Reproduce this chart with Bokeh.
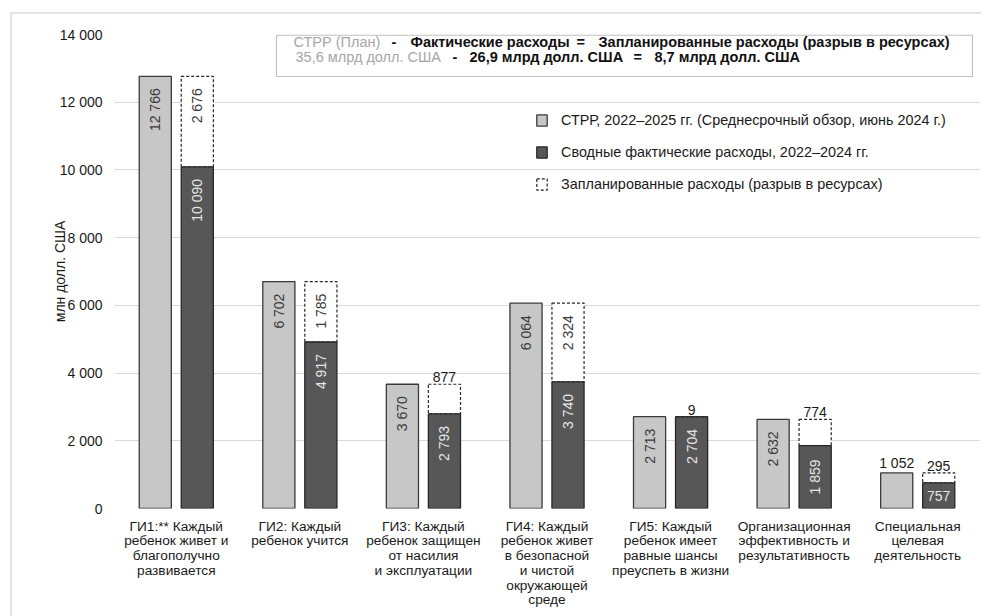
import math
from bokeh.plotting import figure
from bokeh.models import (ColumnDataSource, FactorRange, Range1d, FixedTicker, Legend,
                          LegendItem, Label, BoxAnnotation)
from bokeh.transform import dodge
from bokeh.core.properties import value
from bokeh.embed import file_html
from bokeh.resources import INLINE

# ---------------- data ----------------
categories = [
    "ГИ1:** Каждый\nребенок живет и\nблагополучно\nразвивается",
    "ГИ2: Каждый\nребенок учится",
    "ГИ3: Каждый\nребенок защищен\nот насилия\nи эксплуатации",
    "ГИ4: Каждый\nребенок живет\nв безопасной\nи чистой\nокружающей\nсреде",
    "ГИ5: Каждый\nребенок имеет\nравные шансы\nпреуспеть в жизни",
    "Организационная\nэффективность и\nрезультативность",
    "Специальная\nцелевая\nдеятельность",
]
plan = [12766, 6702, 3670, 6064, 2713, 2632, 1052]        # СТРР 2022–2025
actual = [10090, 4917, 2793, 3740, 2704, 1859, 757]       # фактические расходы 2022–2024
gap = [2676, 1785, 877, 2324, 9, 774, 295]                # разрыв в ресурсах
y_ticks = [0, 2000, 4000, 6000, 8000, 10000, 12000, 14000]
y_tick_labels = ["0", "2 000", "4 000", "6 000", "8 000", "10 000", "12 000", "14 000"]
series_names = [
    "СТРР, 2022–2025 гг. (Среднесрочный обзор, июнь 2024 г.)",
    "Сводные фактические расходы, 2022–2024 гг.",
    "Запланированные расходы (разрыв в ресурсах)",
]
summary_line1 = ["СТРР (План)", "-", "Фактические расходы", "=",
                 "Запланированные расходы (разрыв в ресурсах)"]
summary_line2 = ["35,6 млрд долл. США", "-", "26,9 млрд долл. США", "=",
                 "8,7 млрд долл. США"]
y_axis_title = "млн долл. США"

# label placement styles (per category)
light_mode = ["in", "in", "in", "in", "in", "in", "above"]
dark_mode = ["in", "in", "in", "in", "in", "mid", "mid_h"]
gap_mode = ["in", "in", "above", "in", "above", "above", "above"]

# ---------------- figure ----------------
FONT = "Liberation Sans"
W, H = 981, 616
ML, MR, MT, MB = 114, 2, 34, 108
Y_MAX = 14000
frame_h = H - MT - MB
frame_w = W - ML - MR
upp = Y_MAX / frame_h                 # data units per pixel (y)
cat_px = frame_w / len(categories)    # pixels per category


def px2x(px):
    return (px - ML) / cat_px


def py2y(py):
    return (H - MB - py) * upp


p = figure(x_range=FactorRange(*categories), y_range=Range1d(0, Y_MAX),
           width=W, height=H, output_backend="svg", toolbar_location=None,
           min_border_left=ML, min_border_right=MR, min_border_top=MT,
           min_border_bottom=MB)
p.outline_line_color = None
p.background_fill_color = "white"
p.border_fill_color = None
# light outer panel frame (drawn behind the transparent border area)
p.styles = {
    "background-color": "white",
    "background-image": "linear-gradient(#e3e3e3, #e3e3e3), linear-gradient(#e3e3e3, #e3e3e3)",
    "background-size": "2px 100%, 100% 2px",
    "background-position": "10px 12px, 10px 12px",
    "background-repeat": "no-repeat",
}

p.xgrid.grid_line_color = None
p.ygrid.grid_line_color = "#d9d9d9"
p.ygrid.grid_line_width = 1.2

p.yaxis.ticker = FixedTicker(ticks=y_ticks)
p.yaxis.major_label_overrides = {t: l for t, l in zip(y_ticks, y_tick_labels)}
for ax in (p.xaxis[0], p.yaxis[0]):
    ax.axis_line_color = None
    ax.major_tick_line_color = None
    ax.minor_tick_line_color = None
    ax.major_tick_out = 0
    ax.major_tick_in = 0
    ax.minor_tick_out = 0
    ax.major_label_text_font = FONT
    ax.major_label_text_color = "#1a1a1a"
p.yaxis.major_label_text_font_size = "14px"
p.yaxis.major_label_standoff = 12
p.yaxis.axis_label = y_axis_title
p.yaxis.axis_label_text_font = FONT
p.yaxis.axis_label_text_font_size = "14px"
p.yaxis.axis_label_text_font_style = "normal"
p.yaxis.axis_label_text_color = "#1a1a1a"
p.yaxis.axis_label_standoff = -11

p.xaxis.major_label_text_font_size = "13.7px"
p.xaxis.major_label_text_line_height = 0.985
p.xaxis.major_label_standoff = 10

src = ColumnDataSource(dict(cat=categories, plan=plan, actual=actual, gap=gap,
                            gap_top=[a + g for a, g in zip(actual, gap)]))
OFF = 0.17
BW = 0.26
light = p.vbar(x=dodge("cat", -OFF, range=p.x_range), top="plan", width=BW, source=src,
               fill_color="#c7c7c7", line_color="#3a3a3a", line_width=1.3)
gap_r = p.vbar(x=dodge("cat", OFF, range=p.x_range), bottom="actual", top="gap_top", width=BW,
               source=src, fill_color="white", line_color="#262626", line_dash="3 2",
               line_width=1.2)
dark = p.vbar(x=dodge("cat", OFF, range=p.x_range), top="actual", width=BW, source=src,
              fill_color="#575757", line_color="#262626", line_width=1.3)


def fmt(v):
    return f"{v:,}".replace(",", " ")


groups = {}


def add(side, style, cat, y, txt, color):
    g = groups.setdefault((side, style, color), dict(cat=[], y=[], txt=[]))
    g["cat"].append(cat)
    g["y"].append(y)
    g["txt"].append(txt)


LIGHT_TXT = "#3a3a3a"
DARK_TXT = "#e6e6e6"
ABOVE_TXT = "#1a1a1a"
for i, c in enumerate(categories):
    if light_mode[i] == "in":
        add(-OFF, "rot_end", c, plan[i] - 12 * upp, fmt(plan[i]), LIGHT_TXT)
    else:
        add(-OFF, "above", c, plan[i] + 2 * upp, fmt(plan[i]), ABOVE_TXT)
    if dark_mode[i] == "in":
        add(OFF, "rot_end", c, actual[i] - 12 * upp, fmt(actual[i]), DARK_TXT)
    elif dark_mode[i] == "mid":
        add(OFF, "rot_mid", c, actual[i] / 2, fmt(actual[i]), DARK_TXT)
    else:
        add(OFF, "mid_h", c, actual[i] / 2, fmt(actual[i]), DARK_TXT)
    top = actual[i] + gap[i]
    if gap_mode[i] == "in":
        add(OFF, "rot_end", c, top - 12 * upp, fmt(gap[i]), LIGHT_TXT)
    else:
        add(OFF, "above", c, top + 2 * upp, fmt(gap[i]), ABOVE_TXT)

style_kw = {
    "rot_end": dict(angle=math.pi / 2, text_align="right", text_baseline="middle"),
    "rot_mid": dict(angle=math.pi / 2, text_align="center", text_baseline="middle"),
    "mid_h": dict(angle=0, text_align="center", text_baseline="middle"),
    "above": dict(angle=0, text_align="center", text_baseline="bottom"),
}
for (side, style, color), d in groups.items():
    s = ColumnDataSource(d)
    p.text(x=dodge("cat", side, range=p.x_range), y="y", text="txt", source=s,
           text_font=value(FONT), text_font_size="14px", text_color=color,
           **style_kw[style])

# series legend
legend = Legend(items=[LegendItem(label=series_names[0], renderers=[light]),
                       LegendItem(label=series_names[1], renderers=[dark]),
                       LegendItem(label=series_names[2], renderers=[gap_r])],
                location=(535 - ML, H - MB - 192), padding=0, margin=0, spacing=15,
                glyph_width=13, glyph_height=14, label_height=17, label_standoff=13,
                label_text_font=FONT, label_text_font_size="14.4px",
                label_text_color="#1a1a1a", background_fill_alpha=0, border_line_alpha=0)
p.add_layout(legend)

# summary box
p.add_layout(BoxAnnotation(left=px2x(276), right=px2x(972), top=Y_MAX - 0.7 * upp,
                           bottom=py2y(76), fill_color="white", fill_alpha=1,
                           line_color="#333333", line_width=1.2))
GRAY = "#a6a6a6"
line1_x = [293, 391, 410, 576, 598]
line2_x = [295, 452, 469, 633, 654]
line_colors = [GRAY, "#111111", "#111111", "#111111", "#111111"]
line_styles = ["normal", "bold", "bold", "bold", "bold"]
for txts, xs, ypx in ((summary_line1, line1_x, 41), (summary_line2, line2_x, 56)):
    for t, xp, col, st in zip(txts, xs, line_colors, line_styles):
        p.add_layout(Label(x=px2x(xp), y=py2y(ypx), text=t, text_font=FONT,
                           text_font_size="14.5px", text_font_style=st, text_color=col,
                           text_align="left", text_baseline="middle"))

open("out.html", "w").write(file_html(p, INLINE))
